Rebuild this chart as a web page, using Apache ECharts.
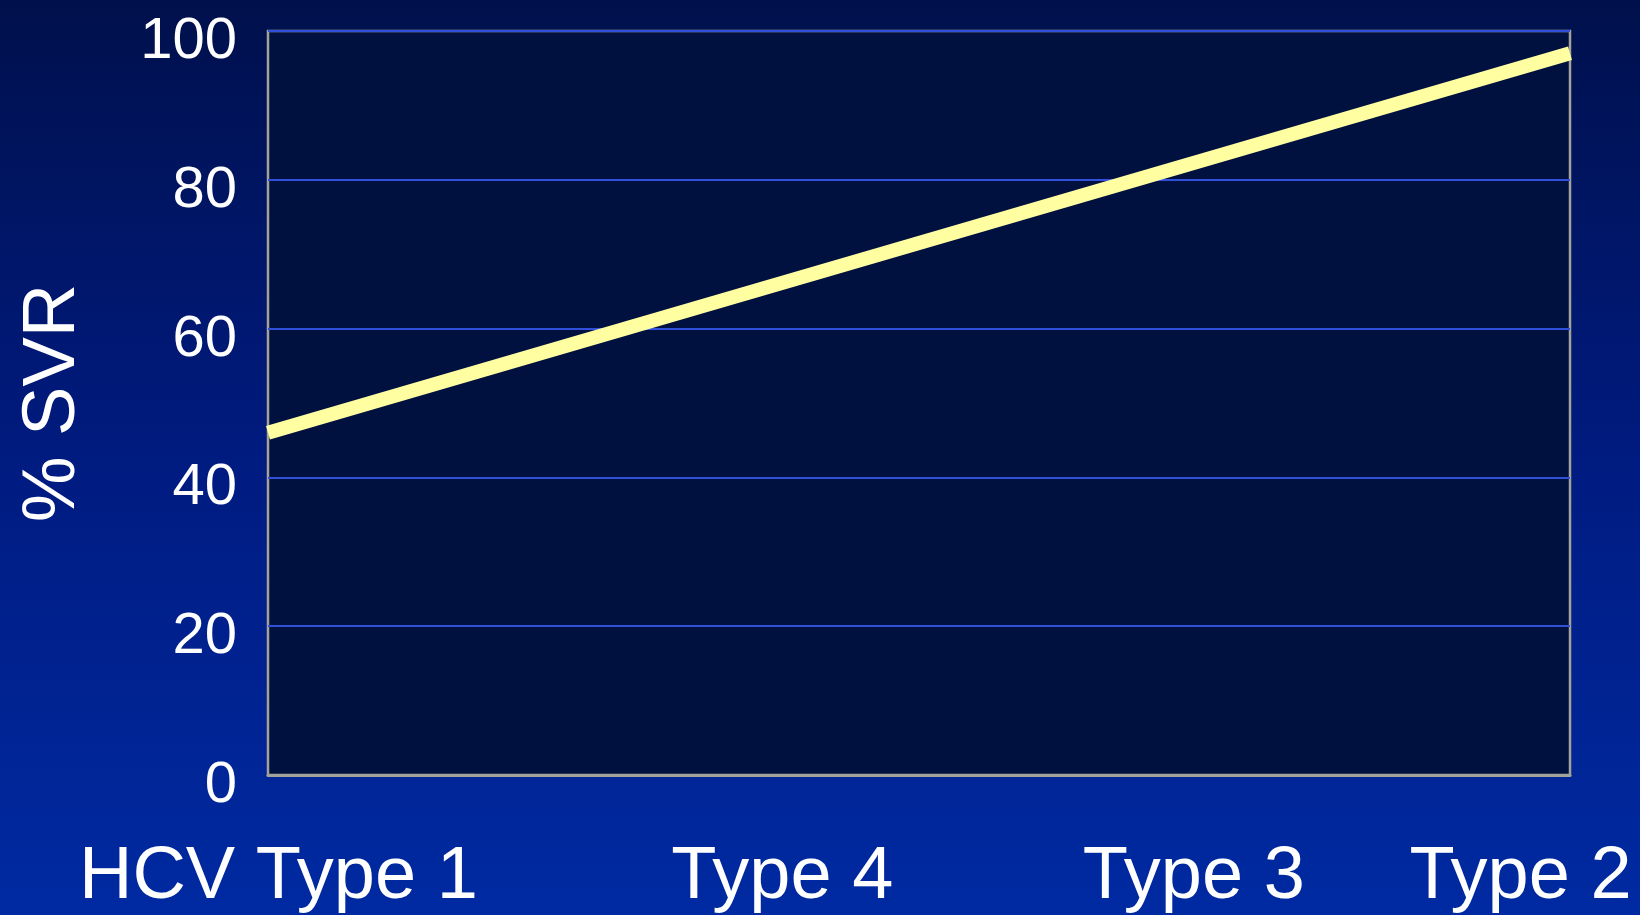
<!DOCTYPE html>
<html>
<head>
<meta charset="utf-8">
<script src="https://cdn.jsdelivr.net/npm/echarts@6/dist/echarts.min.js"></script>
<style>
  html, body { margin: 0; padding: 0; width: 1640px; height: 915px; overflow: hidden; }
  #chart { width: 1640px; height: 915px; }
</style>
</head>
<body>
<div id="chart"></div>
<script>
// Genotype categories and where each label sits along the (unitless) genotype axis
const categories = ['HCV Type 1', 'Type 4', 'Type 3', 'Type 2'];
const categoryTicks = [0.8, 39.5, 71.1, 96.2];
// SVR trend line: start and end of the line (x on genotype axis, % SVR)
const trendX = [0, 100];
const trendSVR = [46, 97];
// Y axis ticks
const yTicks = [0, 20, 40, 60, 80, 100];
const yTitle = '% SVR';

const chart = echarts.init(document.getElementById('chart'), null, { renderer: 'canvas' });

const font = '"Liberation Sans", Arial, Helvetica, sans-serif';

chart.setOption({
  backgroundColor: {
    type: 'linear', x: 0, y: 0, x2: 0, y2: 1,
    colorStops: [
      { offset: 0, color: '#00104C' },
      { offset: 0.5, color: '#001B80' },
      { offset: 1, color: '#002AA2' }
    ]
  },
  animation: false,
  grid: {
    left: 268, right: 70, top: 31, bottom: 140,
    show: true,
    backgroundColor: '#001140',
    borderColor: '#A3A39A',
    borderWidth: 2.5
  },
  xAxis: {
    type: 'value',
    min: 0, max: 100,
    splitLine: { show: false },
    axisLine: { show: true, lineStyle: { color: '#A3A39A', width: 3 } },
    axisTick: { show: false },
    axisLabel: {
      customValues: categoryTicks,
      formatter: function (v) {
        const i = categoryTicks.indexOf(v);
        return i >= 0 ? categories[i] : '';
      },
      color: '#FFFFFF',
      fontSize: 74,
      fontFamily: font,
      margin: 66
    }
  },
  yAxis: {
    type: 'value',
    min: yTicks[0], max: yTicks[yTicks.length - 1], interval: 20,
    name: yTitle,
    nameLocation: 'middle',
    nameGap: 177,
    nameTextStyle: { color: '#FFFFFF', fontSize: 74, fontFamily: font },
    axisLine: { show: false },
    axisTick: { show: false },
    axisLabel: {
      color: '#FFFFFF',
      fontSize: 58,
      fontFamily: font,
      margin: 31,
      verticalAlign: 'top',
      lineHeight: 22
    },
    splitLine: {
      show: true,
      lineStyle: { color: '#3050DA', width: 2 }
    }
  },
  series: [{
    type: 'line',
    data: trendX.map((x, i) => [x, trendSVR[i]]),
    symbol: 'none',
    lineStyle: { color: '#FFFFA2', width: 14, cap: 'butt' },
    clip: false,
    z: 5
  }]
});
</script>
</body>
</html>
